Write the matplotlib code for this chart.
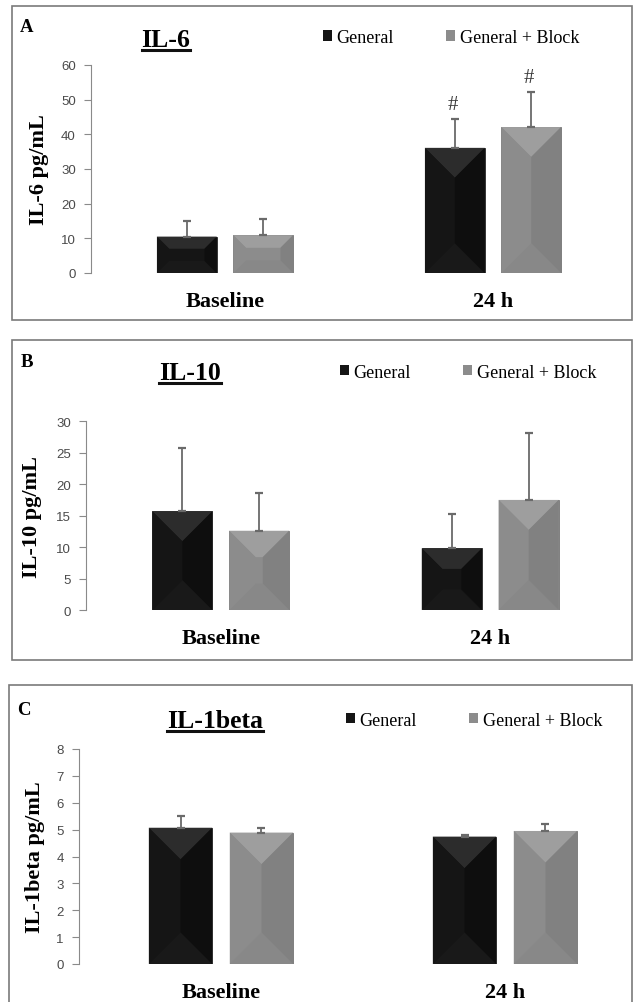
import matplotlib
matplotlib.use("Agg")
import matplotlib.pyplot as plt
import numpy as np
from matplotlib.patches import Patch, Polygon, Rectangle
from matplotlib.lines import Line2D

W, H = 633, 1003
plt.rcParams.update({"font.family": ["Liberation Serif", "DejaVu Serif"], "figure.dpi": 100})

# ── Data ─────────────────────────────────────────────────────────────────────
categories = ["Baseline", "24 h"]
series_names = ["General", "General + Block"]

il6_general = [10.5, 36.1]
il6_general_err = [4.6, 8.2]
il6_block = [10.9, 42.1]
il6_block_err = [4.7, 10.1]
il6_marks = ["", "#"]

il10_general = [15.7, 9.8]
il10_general_err = [10.0, 5.5]
il10_block = [12.6, 17.5]
il10_block_err = [6.0, 10.6]

il1b_general = [5.07, 4.74]
il1b_general_err = [0.43, 0.07]
il1b_block = [4.89, 4.95]
il1b_block_err = [0.17, 0.26]

BLACK, GRAY = "#151515", "#8c8c8c"
SHADE = {BLACK: ("#2c2c2c", "#191919", "#151515", "#0e0e0e"),   # top, bottom, left, right
         GRAY: ("#9e9e9e", "#888888", "#8c8c8c", "#818181")}


def fx(x):
    return x / W


def fy(y):
    return 1 - y / H


def bevel(ax, bars, color):
    """Excel-style bevel: four facets computed from each bar's pixel box."""
    top_c, bot_c, left_c, right_c = SHADE[color]
    inv = ax.transData.inverted()
    for b in bars:
        x0, y0 = ax.transData.transform((b.get_x(), b.get_y()))
        x1, y1 = ax.transData.transform((b.get_x() + b.get_width(), b.get_y() + b.get_height()))
        d = min((x1 - x0) / 2, (y1 - y0) / 3)
        facets = [
            ([(x0, y1), (x1, y1), (x1 - d, y1 - d), (x0 + d, y1 - d)], top_c),
            ([(x0, y0), (x1, y0), (x1 - d, y0 + d), (x0 + d, y0 + d)], bot_c),
            ([(x0, y0), (x0 + d, y0 + d), (x0 + d, y1 - d), (x0, y1)], left_c),
            ([(x1, y0), (x1 - d, y0 + d), (x1 - d, y1 - d), (x1, y1)], right_c),
        ]
        for pts, c in facets:
            ax.add_patch(Polygon(inv.transform(np.array(pts)), closed=True, fc=c, ec="none",
                                 zorder=2.1))


def panel(fig, box, axpx, ymax, ystep, letter, title, title_xy, leg_x, leg_y,
          ylabel, ylabel_x, general, general_err, block, block_err, marks=None):
    # panel frame
    bx0, by0, bx1, by1 = box
    fig.add_artist(Rectangle((fx(bx0), fy(by1)), fx(bx1 - bx0), (by1 - by0) / H,
                             transform=fig.transFigure, fill=False, ec="#7a7a7a", lw=1.2))
    left, right, ytop, ybot = axpx
    ax = fig.add_axes([fx(left), fy(ybot), fx(right - left), (ybot - ytop) / H])
    ax.set_xlim(-0.5, 1.5)
    ax.set_ylim(0, ymax)

    x = np.arange(len(categories))
    w, off = 0.223, 0.1425
    b1 = ax.bar(x - off, general, w, color=BLACK, ec="#2a2a2a", lw=0.6, zorder=2)
    b2 = ax.bar(x + off, block, w, color=GRAY, ec="#767676", lw=0.6, zorder=2)
    bevel(ax, b1, BLACK)
    bevel(ax, b2, GRAY)
    for xs, vals, errs in ((x - off, general, general_err), (x + off, block, block_err)):
        ax.errorbar(xs, vals, yerr=[np.zeros(len(errs)), errs], fmt="none", ecolor="#6a6a6a",
                    elinewidth=1.3, capsize=3.2, capthick=1.6, zorder=3)
    if marks:
        for xs, vals, errs in ((x - off, general, general_err), (x + off, block, block_err)):
            for xi, v, e, m in zip(xs, vals, errs, marks):
                if m:
                    ax.annotate(m, (xi, v + e), xytext=(-2, 15), textcoords="offset pixels",
                                ha="center", va="center", fontsize=15, color="#3a3a3a")

    for s in ("top", "right", "bottom"):
        ax.spines[s].set_visible(False)
    ax.spines["left"].set_color("#8a8a8a")
    ax.set_yticks(np.arange(0, ymax + ystep / 2, ystep))
    ax.tick_params(axis="y", length=5, color="#8a8a8a", labelsize=9.5, labelcolor="#4a4a4a",
                   pad=6)
    for lab in ax.get_yticklabels():
        lab.set_family(["Liberation Sans", "DejaVu Sans"])
    ax.set_xticks(x)
    ax.set_xticklabels(categories, fontsize=16, fontweight="bold")
    ax.tick_params(axis="x", length=0, pad=13)
    ax.set_ylabel(ylabel, fontsize=16, fontweight="bold", va="center")
    ax.yaxis.set_label_coords((ylabel_x - left) / (right - left), 0.5)
    ax.patch.set_alpha(0)

    # letter, underlined title, legend
    fig.text(fx(box[0] + 15), fy(letter[1]), letter[0], fontsize=13.5, fontweight="bold",
             ha="center", va="baseline")
    t = fig.text(fx(title_xy[0]), fy(title_xy[1]), title, fontsize=18.5, fontweight="bold",
                 ha="center", va="baseline")
    fig.canvas.draw()
    bb = t.get_window_extent()
    fig.add_artist(Line2D([bb.x0 / W, bb.x1 / W], [fy(title_xy[1] + 4)] * 2,
                          transform=fig.transFigure, color="#111111", lw=2.2))
    ax.legend(handles=[Patch(fc=BLACK, ec="none"), Patch(fc=GRAY, ec="none")],
              labels=series_names, ncol=2, frameon=False, loc="center left",
              bbox_to_anchor=(fx(leg_x), fy(leg_y)), bbox_transform=fig.transFigure,
              prop={"size": 13}, handlelength=0.5, handleheight=0.5, handletextpad=0.25,
              columnspacing=2.9, borderpad=0, borderaxespad=0)
    return ax


fig = plt.figure(figsize=(W / 100, H / 100), dpi=100)

panel(fig, (12, 7, 632, 321), (91, 627, 66, 274), 60, 10, ("A", 32), "IL-6", (166, 47),
      323, 38.5, "IL-6 pg/mL", 39,
      il6_general, il6_general_err, il6_block, il6_block_err, marks=il6_marks)
panel(fig, (12, 341, 632, 661), (86, 625, 422.3, 611), 30, 5, ("B", 367), "IL-10", (190, 380),
      340, 373, "IL-10 pg/mL", 32,
      il10_general, il10_general_err, il10_block, il10_block_err)
panel(fig, (9, 686, 632, 1010), (79, 647, 750, 965), 8, 1, ("C", 715), "IL-1beta", (215, 728),
      346, 721, "IL-1beta pg/mL", 35,
      il1b_general, il1b_general_err, il1b_block, il1b_block_err)

fig.savefig("out.png", dpi=100)
